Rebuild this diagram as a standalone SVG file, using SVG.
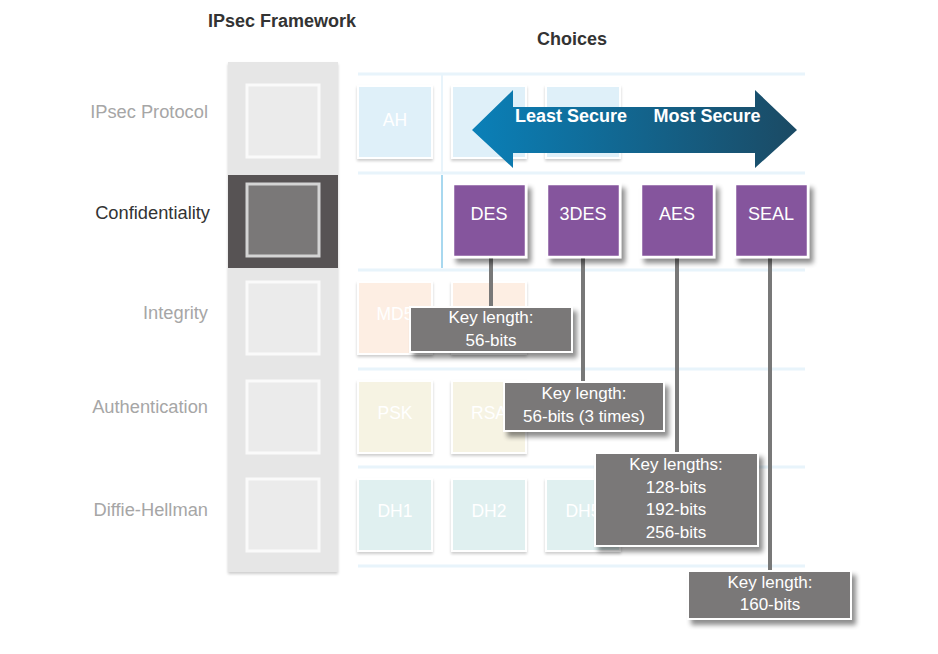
<svg xmlns="http://www.w3.org/2000/svg" width="938" height="654" viewBox="0 0 938 654">
<defs>
<filter id="sh" x="-20%" y="-20%" width="150%" height="160%">
<feGaussianBlur in="SourceAlpha" stdDeviation="2.5"/>
<feOffset dx="4" dy="5" result="b"/>
<feComponentTransfer><feFuncA type="linear" slope="0.45"/></feComponentTransfer>
<feMerge><feMergeNode/><feMergeNode in="SourceGraphic"/></feMerge>
</filter>
<filter id="sh2" x="-20%" y="-20%" width="150%" height="160%">
<feGaussianBlur in="SourceAlpha" stdDeviation="1.5"/>
<feOffset dx="0" dy="2" result="b"/>
<feComponentTransfer><feFuncA type="linear" slope="0.2"/></feComponentTransfer>
<feMerge><feMergeNode/><feMergeNode in="SourceGraphic"/></feMerge>
</filter>
<linearGradient id="ag" x1="0" y1="0" x2="1" y2="0">
<stop offset="0" stop-color="#0a80b8"/>
<stop offset="1" stop-color="#1b4a64"/>
</linearGradient>
<style>
text{font-family:"Liberation Sans",Arial,sans-serif}
.lbl{font-size:18.3px;fill:#a6a6a6;text-anchor:end}
.ttl{font-size:18px;font-weight:bold;fill:#333}
.fw{fill:#ebebeb;stroke:#fafafa;stroke-width:3}
.sep{stroke:#e8f4fb;stroke-width:3}
.ch{stroke:#fff;stroke-width:2;filter:url(#sh2)}
.blue{fill:#dff0f9}
.peach{fill:#fdeee3}
.yel{fill:#f6f3e3}
.teal{fill:#e0f0f0}
.ft{font-size:17.5px;fill:#fff;text-anchor:middle}
.pur{fill:#85549d;stroke:#fff;stroke-width:2.5;filter:url(#sh)}
.pt{font-size:18px;fill:#fff;text-anchor:middle}
.co{fill:#7a7878;stroke:#fff;stroke-width:2;filter:url(#sh)}
.ct{font-size:17px;fill:#fff;text-anchor:middle}
.ln{stroke:#787878;stroke-width:4;fill:none}
</style>
</defs>
<rect width="938" height="654" fill="#fff"/>
<text class="ttl" x="282" y="27" text-anchor="middle">IPsec Framework</text>
<text class="ttl" x="572" y="45" text-anchor="middle">Choices</text>

<g id="framework">
<rect x="228" y="62" width="110" height="510" fill="#e6e6e6" filter="url(#sh2)"/>
<rect x="228" y="175" width="110" height="93" fill="#575354"/>
<rect class="fw" x="247" y="85" width="72" height="72"/>
<rect x="247" y="184" width="72" height="72" fill="#7a7878" stroke="#d4d4d4" stroke-width="3"/>
<rect class="fw" x="247" y="282" width="72" height="72"/>
<rect class="fw" x="247" y="381" width="72" height="72"/>
<rect class="fw" x="247" y="479" width="72" height="72"/>
</g>
<g id="labels">
<text class="lbl" x="208" y="118">IPsec Protocol</text>
<text class="lbl" x="210" y="219" style="fill:#333">Confidentiality</text>
<text class="lbl" x="208" y="319">Integrity</text>
<text class="lbl" x="208" y="413">Authentication</text>
<text class="lbl" x="208" y="516">Diffie-Hellman</text>
</g>
<g id="grid">
<line class="sep" x1="358" y1="74" x2="805" y2="74"/>
<line class="sep" x1="358" y1="173" x2="805" y2="173"/>
<line class="sep" x1="358" y1="270" x2="805" y2="270"/>
<line class="sep" x1="358" y1="369" x2="805" y2="369"/>
<line class="sep" x1="358" y1="467" x2="805" y2="467"/>
<line class="sep" x1="358" y1="566" x2="805" y2="566"/>
<line x1="442" y1="74" x2="442" y2="173" stroke="#e8f4fb" stroke-width="2"/>
<line x1="442" y1="175" x2="442" y2="268" stroke="#a8d8ef" stroke-width="2"/>
</g>
<g id="faded">
<rect class="ch blue" x="358" y="86" width="74" height="72"/><text class="ft" x="395" y="126">AH</text>
<rect class="ch blue" x="452" y="86" width="74" height="72"/>
<rect class="ch blue" x="546" y="86" width="74" height="72"/>
<rect class="ch peach" x="358" y="282" width="74" height="72"/><text class="ft" x="395" y="320">MD5</text>
<rect class="ch peach" x="452" y="282" width="74" height="72"/>
<rect class="ch yel" x="358" y="381" width="74" height="72"/><text class="ft" x="395" y="419">PSK</text>
<rect class="ch yel" x="452" y="381" width="74" height="72"/><text class="ft" x="489" y="419">RSA</text>
<rect class="ch teal" x="358" y="479" width="74" height="72"/><text class="ft" x="395" y="517">DH1</text>
<rect class="ch teal" x="452" y="479" width="74" height="72"/><text class="ft" x="489" y="517">DH2</text>
<rect class="ch teal" x="546" y="479" width="74" height="72"/><text class="ft" x="583" y="517">DH5</text>
</g>
<g id="arrow">
<polygon points="472,130 513,90 513,107 755,107 755,90 797,130 755,168 755,153 513,153 513,168" fill="url(#ag)"/>
<text x="571" y="122" font-size="18" font-weight="bold" fill="#fff" text-anchor="middle">Least Secure</text>
<text x="707" y="122" font-size="18" font-weight="bold" fill="#fff" text-anchor="middle">Most Secure</text>
</g>
<g id="connectors">
<line class="ln" x1="491" y1="250" x2="491" y2="308"/>
<line class="ln" x1="583" y1="250" x2="583" y2="383"/>
<line class="ln" x1="677" y1="250" x2="677" y2="454"/>
<line class="ln" x1="770" y1="250" x2="770" y2="572"/>
</g>
<g id="DES"><rect class="pur" x="453" y="184" width="73" height="73"/><text class="pt" x="489" y="220">DES</text></g>
<g id="3DES"><rect class="pur" x="547" y="184" width="73" height="73"/><text class="pt" x="583" y="220">3DES</text></g>
<g id="AES"><rect class="pur" x="641" y="184" width="73" height="73"/><text class="pt" x="677" y="220">AES</text></g>
<g id="SEAL"><rect class="pur" x="735" y="184" width="73" height="73"/><text class="pt" x="771" y="220">SEAL</text></g>
<g id="c-des"><rect class="co" x="410" y="307" width="162" height="45"/>
<text class="ct" x="491" y="323">Key length:</text><text class="ct" x="491" y="346">56-bits</text></g>
<g id="c-3des"><rect class="co" x="504" y="382" width="160" height="49"/>
<text class="ct" x="584" y="399">Key length:</text><text class="ct" x="584" y="422">56-bits (3 times)</text></g>
<g id="c-aes"><rect class="co" x="595" y="453" width="163" height="93"/>
<text class="ct" x="676" y="470">Key lengths:</text><text class="ct" x="676" y="493">128-bits</text><text class="ct" x="676" y="515">192-bits</text><text class="ct" x="676" y="538">256-bits</text></g>
<g id="c-seal"><rect class="co" x="688" y="571" width="163" height="48"/>
<text class="ct" x="770" y="588">Key length:</text><text class="ct" x="770" y="610">160-bits</text></g>
</svg>
